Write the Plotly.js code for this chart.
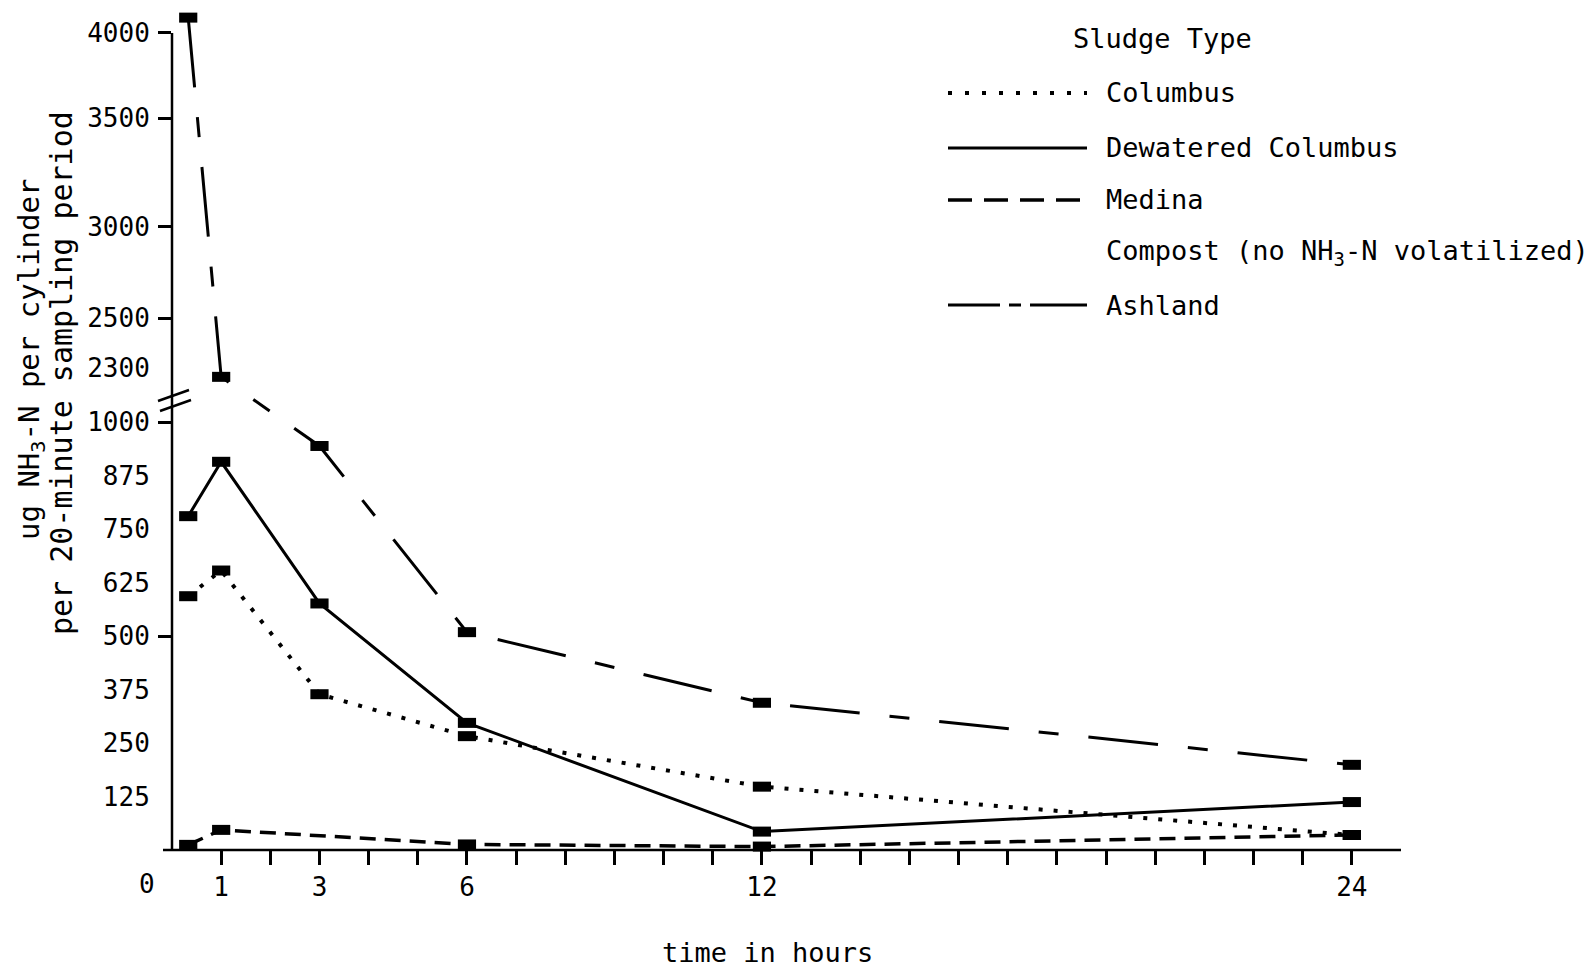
<!DOCTYPE html>
<html>
<head>
<meta charset="utf-8">
<script src="https://cdn.plot.ly/plotly-3.0.1.min.js"></script>
<style>
  html, body { margin: 0; padding: 0; background: #fff; }
  #chart { width: 1594px; height: 972px; }
</style>
</head>
<body>
<div id="chart"></div>
<script>
// Sampling times, hours after application (first sample at 20 minutes)
const hours = [0.33, 1, 3, 6, 12, 24];
const hoursMedina = [0.33, 1, 6, 12, 24];

// ug NH3-N per cylinder per 20-minute sampling period
const columbus = [593, 653, 364, 266, 148, 35];
const dewateredColumbus = [780, 907, 576, 297, 43, 112];
const medina = [12, 47, 13, 8, 35];
const ashland = [4090, 2265, 944, 509, 344, 199];

// Axis ticks
const xTickHours = [1, 2, 3, 4, 5, 6, 7, 8, 9, 10, 11, 12, 13, 14, 15, 16, 17, 18, 19, 20, 21, 22, 23, 24];
const xLabelledHours = [1, 3, 6, 12, 24];
const yLowerLabels = [125, 250, 375, 500, 625, 750, 875, 1000];
const yUpperLabels = [2300, 2500, 3000, 3500, 4000];
const yMarkedTicks = [500, 1000, 2500, 3000, 3500, 4000];

// ---- page geometry ----
const W = 1594, H = 972;
const M = { l: 172, r: 193, t: 10, b: 122 };
const plotW = W - M.l - M.r;
const plotH = H - M.t - M.b;
const PX_PER_UNIT = 0.428;              // lower segment: px per ug
const Y_MAX = plotH / PX_PER_UNIT;
const X_MAX = 25;

// ---- broken y scale ----
// Below the break the axis is linear (plot unit = value);
// above it the axis follows the spacing of its drafted tick marks.
const BREAK_AT = 1063;
const upperStops = [[2300, 1126], [2500, 1243], [3000, 1456], [3500, 1710], [4000, 1909]];
function yScale(v) {
  if (v <= BREAK_AT) return v;
  const s = upperStops;
  let i = 0;
  if (v >= s[s.length - 1][0]) i = s.length - 2;
  else if (v > s[0][0]) { while (v > s[i + 1][0]) i++; }
  const [v0, u0] = s[i], [v1, u1] = s[i + 1];
  return u0 + (v - v0) * (u1 - u0) / (v1 - v0);
}

// pixel -> paper helpers for decorations
const pxX = x => (x - M.l) / plotW;
const pxY = y => (H - M.b - y) / plotH;

const FONT = '"DejaVu Sans Mono", "Liberation Mono", monospace';
const INK = '#000';

const styles = {
  columbus:  { width: 4,   dash: '4px,11px',             legendDash: '4px,13px' },
  dewatered: { width: 3,   dash: 'solid',                legendDash: 'solid' },
  medina:    { width: 3.5, dash: '16px,9px',             legendDash: '24px,12px' },
  ashland:   { width: 3,   dash: '70px,30px,20px,30px',  legendDash: '52px,9px,12px,9px,60px' }
};

const marker = { symbol: 'line-ew', size: 13, color: INK, line: { width: 10, color: INK } };

function series(name, xs, ys, st) {
  return {
    type: 'scatter', mode: 'lines+markers', name: name,
    x: xs, y: ys.map(yScale), customdata: ys,
    hovertemplate: name + '<br>%{x} h: %{customdata}<extra></extra>',
    line: { color: INK, width: st.width, dash: st.dash },
    marker: marker, cliponaxis: false, showlegend: false
  };
}

const traces = [
  series('Columbus', hours, columbus, styles.columbus),
  series('Dewatered Columbus', hours, dewateredColumbus, styles.dewatered),
  series('Medina', hoursMedina, medina, styles.medina),
  series('Ashland', hours, ashland, styles.ashland),
  { type: 'scatter', x: [], y: [], yaxis: 'y2', showlegend: false, hoverinfo: 'skip' }
];

const yLabels = yLowerLabels.concat(yUpperLabels);

// ---- legend (drawn by hand so the line samples are long) ----
const legendRows = [
  { text: 'Columbus', st: styles.columbus, y: 93 },
  { text: 'Dewatered Columbus', st: styles.dewatered, y: 148 },
  { text: 'Medina', st: styles.medina, y: 200 },
  { text: 'Compost (no NH<sub>3</sub>-N volatilized)', st: null, y: 253 },
  { text: 'Ashland', st: styles.ashland, y: 305 }
];

const shapes = [
  // axes
  { type: 'line', xref: 'paper', yref: 'paper', x0: pxX(163), x1: pxX(1401), y0: 0, y1: 0,
    line: { color: INK, width: 2.5 } },
  { type: 'line', xref: 'paper', yref: 'y', x0: 0, x1: 0, y0: 0, y1: yScale(4000),
    line: { color: INK, width: 2.5 } },
  // axis break marks
  { type: 'line', xref: 'paper', yref: 'paper', x0: pxX(158), y0: pxY(401), x1: pxX(189), y1: pxY(390),
    line: { color: INK, width: 2.5 } },
  { type: 'line', xref: 'paper', yref: 'paper', x0: pxX(160), y0: pxY(411), x1: pxX(191), y1: pxY(400),
    line: { color: INK, width: 2.5 } }
];
legendRows.forEach(r => {
  if (!r.st) return;
  shapes.push({ type: 'line', xref: 'paper', yref: 'paper',
    x0: pxX(948), x1: pxX(1087), y0: pxY(r.y), y1: pxY(r.y),
    line: { color: INK, width: r.st.width, dash: r.st.legendDash } });
});

const annotations = [
  { text: 'Sludge Type', xref: 'paper', yref: 'paper', x: pxX(1071), y: pxY(39),
    xanchor: 'left', yanchor: 'middle', showarrow: false, font: { family: FONT, size: 27, color: INK } },
  { text: 'time in hours', xref: 'paper', yref: 'paper', x: pxX(767), y: pxY(952),
    xanchor: 'center', yanchor: 'middle', showarrow: false, borderpad: 0,
    font: { family: FONT, size: 27, color: INK } },
  { text: 'ug NH<sub>3</sub>-N per cylinder', xref: 'paper', yref: 'paper', x: pxX(31), y: pxY(360),
    xanchor: 'center', yanchor: 'middle', textangle: -90, showarrow: false,
    font: { family: FONT, size: 29, color: INK } },
  { text: 'per 20-minute sampling period', xref: 'paper', yref: 'paper', x: pxX(61), y: pxY(373),
    xanchor: 'center', yanchor: 'middle', textangle: -90, showarrow: false,
    font: { family: FONT, size: 30, color: INK } },
  { text: '0', xref: 'paper', yref: 'paper', x: pxX(147), y: pxY(884),
    xanchor: 'center', yanchor: 'middle', showarrow: false, font: { family: FONT, size: 26, color: INK } }
];
legendRows.forEach(r => {
  annotations.push({ text: r.text, xref: 'paper', yref: 'paper', x: pxX(1104), y: pxY(r.y),
    xanchor: 'left', yanchor: 'middle', showarrow: false, font: { family: FONT, size: 27, color: INK } });
});

const layout = {
  width: W, height: H,
  margin: { l: M.l, r: M.r, t: M.t, b: M.b, pad: 0 },
  paper_bgcolor: '#fff', plot_bgcolor: '#fff',
  showlegend: false,
  font: { family: FONT, size: 26, color: INK },
  xaxis: {
    range: [0, X_MAX], showgrid: false, zeroline: false, showline: false,
    tickmode: 'array', tickvals: xLabelledHours, ticktext: xLabelledHours.map(String),
    ticks: 'outside', ticklen: 14, tickwidth: 2.5, tickcolor: INK,
    tickfont: { family: FONT, size: 26, color: INK },
    minor: { tickmode: 'array', tickvals: xTickHours, ticks: 'outside', ticklen: 14,
             tickwidth: 2.5, tickcolor: INK, showgrid: false }
  },
  yaxis: {
    range: [0, Y_MAX], showgrid: false, zeroline: false, showline: false,
    tickmode: 'array', tickvals: yLabels.map(yScale), ticktext: yLabels.map(String),
    ticks: 'outside', ticklen: 16, tickcolor: 'rgba(0,0,0,0)',
    tickfont: { family: FONT, size: 26, color: INK }
  },
  yaxis2: {
    overlaying: 'y', side: 'left', anchor: 'x',
    range: [0, Y_MAX], showgrid: false, zeroline: false, showline: false,
    tickmode: 'array', tickvals: yMarkedTicks.map(yScale),
    showticklabels: false, ticks: 'outside', ticklen: 13, tickwidth: 2.5, tickcolor: INK
  },
  shapes: shapes,
  annotations: annotations
};

Plotly.newPlot('chart', traces, layout, { displayModeBar: false, responsive: false });
</script>
</body>
</html>
